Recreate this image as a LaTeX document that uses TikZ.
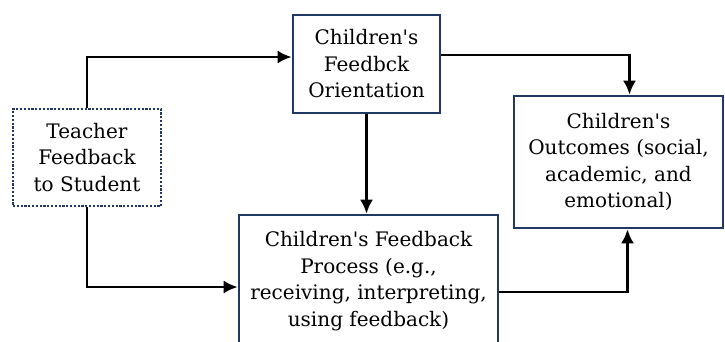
\documentclass[tikz,border=0pt]{standalone}
\usepackage{fontspec}
\setmainfont{DejaVu Serif}
\usetikzlibrary{calc}
\usetikzlibrary{arrows.meta}
\definecolor{boxblue}{RGB}{31,56,100}
\newcommand{\aps}{\textquotesingle}

\begin{document}
\begin{tikzpicture}[x=1pt,y=-1pt,>={Latex[length=14pt,width=13pt]},
	box/.style={draw=boxblue, line width=2.6pt, fill=white, align=center, inner sep=0pt,
		font=\fontsize{20}{26.5}\selectfont},
	link/.style={->, line width=2.6pt, black}]
		\clip (0,0) rectangle (725,341);%page
		
		\node[box, dash pattern=on 2.2pt off 1.6pt, minimum width=148pt, minimum height=97pt] (teacher) at (87,157.5) {Teacher\\Feedback\\to Student};
		\node[box, minimum width=147pt, minimum height=98pt] (orient) at (366.5,64) {Children\aps s\\Feedbck\\Orientation};
		\node[box, minimum width=209pt, minimum height=132pt] (outcome) at (618.5,162) {Children\aps s\\Outcomes (social,\\academic, and\\emotional)};
		\node[box, minimum width=259pt, minimum height=132pt] (process) at (368.5,281) {Children\aps s Feedback\\Process (e.g.,\\receiving, interpreting,\\using feedback)};%cut at bottom
		
		\draw[link] (teacher.north) |- ($(orient.west)+(0,-7)$);
		\draw[link] (teacher.south) |- ($(process.west)+(0,6)$);
		\draw[link] (orient.south) -- (orient.south |- process.north);
		\draw[link] ($(orient.east)+(0,-9)$) -| ($(outcome.north)+(11,0)$);
		\draw[link] ($(process.east)+(0,11)$) -| ($(outcome.south)+(9,0)$);
\end{tikzpicture}
\end{document}
